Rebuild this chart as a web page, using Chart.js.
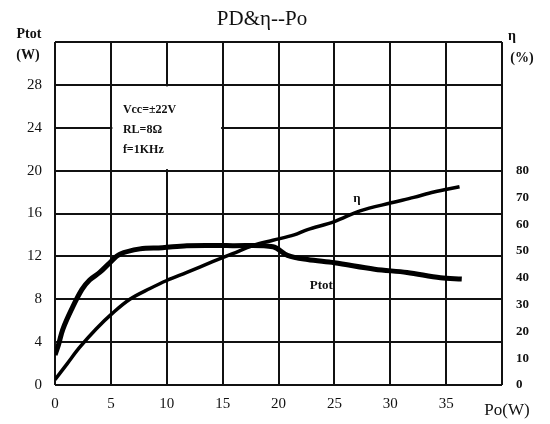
<!DOCTYPE html>
<html>
<head>
<meta charset="utf-8">
<script src="https://cdn.jsdelivr.net/npm/chart.js@4.4.0/dist/chart.umd.min.js"></script>
<style>
  html, body { margin: 0; padding: 0; background: #fff; }
  #wrap { width: 550px; height: 424px; position: relative; }
</style>
</head>
<body>
<div id="wrap"><canvas id="chart"></canvas></div>
<script>
// Ptot (W) vs Po (W)
const poPtot = [0, 0.3, 0.7, 1.5, 2.4, 3.1, 4, 4.9, 5.8, 7.6, 9.6, 11.8, 15.9, 19.5, 20.8, 22.6, 25, 28.6, 31.5, 34.5, 36.4];
const ptotValues = [2.8, 3.7, 5.2, 7.1, 8.9, 9.8, 10.5, 11.4, 12.2, 12.7, 12.8, 13, 13, 12.9, 12.1, 11.7, 11.4, 10.8, 10.5, 10, 9.9];

// efficiency (%) vs Po (W)
const poEta = [0, 1.1, 2.2, 3.7, 5.2, 6.7, 8.5, 10, 11.8, 14.1, 15.9, 17.7, 19.5, 21.4, 22.6, 25, 27.3, 30.1, 32.1, 33.9, 36.2];
const etaValues = [2, 8, 14, 21, 27, 32, 36, 39, 42, 46, 49, 52, 54, 56, 58, 61, 65, 68, 70, 72, 74];

const xTicks = [0, 5, 10, 15, 20, 25, 30, 35];
const ptotTicks = [0, 4, 8, 12, 16, 20, 24, 28];
const etaTicks = [0, 10, 20, 30, 40, 50, 60, 70, 80];

const notes = ['Vcc=±22V', 'RL=8Ω', 'f=1KHz'];

const serif = '"Liberation Serif", "DejaVu Serif", serif';

const toPoints = (xs, ys) => xs.map((x, i) => ({ x: x, y: ys[i] }));

// white box behind the test conditions, labels and titles
const decorations = {
  id: 'decorations',
  beforeDatasetsDraw(chart) {
    const { ctx, scales } = chart;
    const x0 = scales.x.getPixelForValue(5);
    const x1 = scales.x.getPixelForValue(15);
    const y0 = scales.y.getPixelForValue(28);
    const y1 = scales.y.getPixelForValue(20);
    ctx.save();
    ctx.fillStyle = '#fff';
    ctx.fillRect(x0 + 1.5, y0 + 1.5, x1 - x0 - 3, y1 - y0 - 3);
    ctx.restore();
  },
  afterDraw(chart) {
    const { ctx, scales, chartArea } = chart;
    ctx.save();
    ctx.fillStyle = '#111';
    ctx.textBaseline = 'middle';

    ctx.textAlign = 'center';
    ctx.font = '21px ' + serif;
    ctx.fillText('PD&η--Po', 262, 19);

    ctx.font = 'bold 14px ' + serif;
    ctx.fillText('Ptot', 29, 34);
    ctx.fillText('(W)', 28, 55);
    ctx.fillText('η', 512, 36);
    ctx.fillText('(%)', 522, 58);

    ctx.font = '17px ' + serif;
    ctx.fillText('Po(W)', 507, 411);

    ctx.textAlign = 'left';
    ctx.font = 'bold 12px ' + serif;
    const nx = scales.x.getPixelForValue(5) + 12;
    notes.forEach((t, i) => ctx.fillText(t, nx, 110 + i * 20));

    ctx.font = 'bold 13px ' + serif;
    ctx.fillText('η', scales.x.getPixelForValue(26.7), scales.y.getPixelForValue(17.4));
    ctx.fillText('Ptot', scales.x.getPixelForValue(22.8), scales.y.getPixelForValue(9.3));
    ctx.restore();
  }
};

new Chart(document.getElementById('chart'), {
  type: 'line',
  data: {
    datasets: [
      {
        label: 'Ptot',
        data: toPoints(poPtot, ptotValues),
        yAxisID: 'y',
        borderColor: '#000',
        borderWidth: 5,
        pointRadius: 0,
        tension: 0.35,
        fill: false
      },
      {
        label: 'η',
        data: toPoints(poEta, etaValues),
        yAxisID: 'y2',
        borderColor: '#000',
        borderWidth: 3.5,
        pointRadius: 0,
        tension: 0.35,
        fill: false
      }
    ]
  },
  options: {
    responsive: true,
    maintainAspectRatio: false,
    animation: false,
    layout: { padding: { top: 42, left: 0, right: 0, bottom: 0 } },
    plugins: {
      legend: { display: false },
      tooltip: { enabled: false }
    },
    scales: {
      x: {
        type: 'linear',
        min: 0,
        max: 40,
        afterFit: (s) => { s.height = 39; },
        afterBuildTicks: (s) => { s.ticks = xTicks.concat([40]).map(v => ({ value: v })); },
        grid: { color: '#111', lineWidth: 2, drawTicks: false },
        border: { display: false },
        ticks: {
          padding: 10,
          color: '#111',
          font: { family: serif, size: 15 },
          callback: (v) => xTicks.includes(v) ? String(v) : ''
        }
      },
      y: {
        type: 'linear',
        position: 'left',
        min: 0,
        max: 32,
        afterFit: (s) => { s.width = 55; },
        afterBuildTicks: (s) => { s.ticks = ptotTicks.concat([32]).map(v => ({ value: v })); },
        grid: { color: '#111', lineWidth: 2, drawTicks: false },
        border: { display: false },
        ticks: {
          padding: 13,
          color: '#111',
          font: { family: serif, size: 15 },
          callback: (v) => ptotTicks.includes(v) ? String(v) : ''
        }
      },
      y2: {
        type: 'linear',
        position: 'right',
        min: 0,
        max: 128,
        afterFit: (s) => { s.width = 48; },
        afterBuildTicks: (s) => { s.ticks = etaTicks.map(v => ({ value: v })); },
        grid: { display: false, drawTicks: false },
        border: { display: false },
        ticks: {
          padding: 14,
          color: '#111',
          font: { family: serif, size: 13, weight: 'bold' },
          callback: (v) => String(v)
        }
      }
    }
  },
  plugins: [decorations]
});
</script>
</body>
</html>
